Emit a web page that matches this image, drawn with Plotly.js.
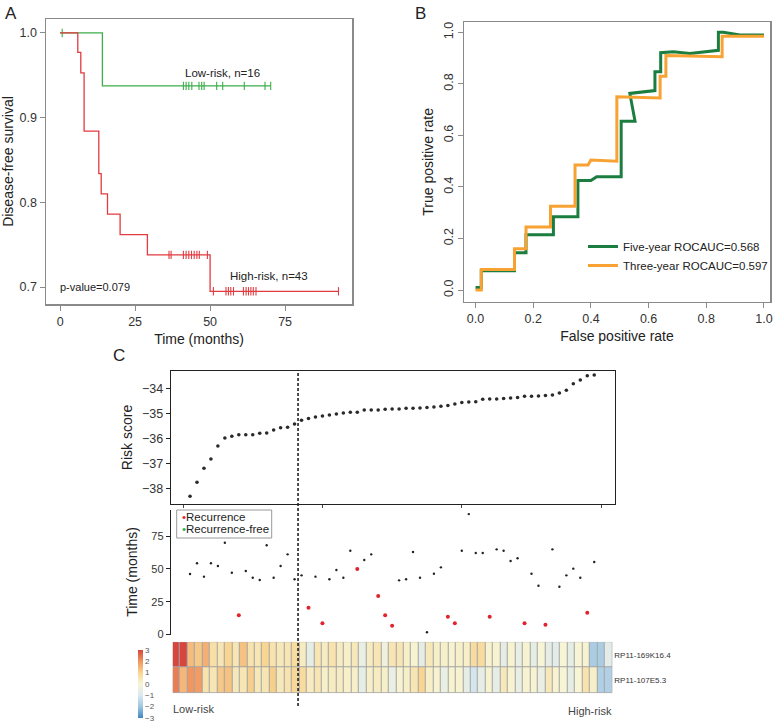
<!DOCTYPE html>
<html>
<head>
<meta charset="utf-8">
<script src="https://cdn.plot.ly/plotly-3.0.1.min.js"></script>
<style>
  body { margin: 0; background: #fff; }
  #plot { width: 777px; height: 725px; }
</style>
</head>
<body>
<div id="plot"></div>
<script>
// ---- panel A: Kaplan-Meier (months, survival) ----
const lowEventTimes = [0, 14.1];
const lowSurv = [1, 0.9375];
const lowCensor = [0.7, 41.1, 42, 42.9, 43.9, 46.3, 47.2, 48, 52.2, 54.2, 61.4, 68.3, 70.2];

const highEventTimes = [0, 5.9, 6.9, 8.0, 12.9, 13.7, 15.8, 20.0, 29.1, 50.0];
const highSurv = [1, 0.977, 0.953, 0.884, 0.834, 0.810, 0.786, 0.762, 0.738, 0.695];
const highCensor = [36.3, 37, 41.1, 42, 42.9, 43.8, 44.7, 45.6, 46.4, 49.1, 51.1, 55.3, 56.1, 56.9,
    57.8, 61.1, 62, 62.8, 63.6, 64.4, 65.3, 92.8];

// ---- panel B: ROC ----
const fiveFpr = [0, 0.02, 0.02, 0.135, 0.135, 0.175, 0.175, 0.27, 0.27, 0.355, 0.355, 0.40, 0.42, 0.505,
    0.505, 0.553, 0.535, 0.622, 0.622, 0.642, 0.642, 0.686, 0.743, 0.842, 0.842, 0.859, 0.917, 1.0];
const fiveTpr = [0.01, 0.01, 0.075, 0.075, 0.145, 0.145, 0.215, 0.215, 0.285, 0.285, 0.425, 0.425, 0.44, 0.44,
    0.655, 0.655, 0.763, 0.774, 0.847, 0.847, 0.921, 0.925, 0.918, 0.93, 1.0, 1.0, 0.99, 0.99];
const threeFpr = [0, 0.02, 0.02, 0.135, 0.135, 0.175, 0.175, 0.26, 0.26, 0.345, 0.345, 0.39, 0.40, 0.49,
    0.49, 0.64, 0.64, 0.66, 0.66, 0.855, 0.855, 1.0];
const threeTpr = [0, 0, 0.08, 0.08, 0.16, 0.16, 0.245, 0.245, 0.325, 0.325, 0.485, 0.485, 0.505, 0.50,
    0.75, 0.745, 0.83, 0.83, 0.91, 0.905, 0.985, 0.985];

// ---- panel C: risk score, follow-up time, expression ----
const lowRiskN = 16;
const riskScore = [-38.32, -37.76, -37.2, -36.83, -36.31, -35.99, -35.92, -35.86, -35.86, -35.86,
    -35.80, -35.79, -35.67, -35.58, -35.56, -35.43, -35.28, -35.21, -35.15, -35.11,
    -35.07, -35.03, -34.99, -34.96, -34.96, -34.87, -34.87, -34.87, -34.84, -34.83,
    -34.83, -34.80, -34.80, -34.79, -34.77, -34.75, -34.72, -34.69, -34.63, -34.57,
    -34.55, -34.54, -34.44, -34.43, -34.43, -34.41, -34.39, -34.37, -34.32, -34.32,
    -34.31, -34.29, -34.27, -34.19, -34.08, -33.82, -33.67, -33.50, -33.47];
const followUp = [46.1, 54.3, 44.1, 54.3, 52.2, 70.0, 47.1, 14.6, 48.4, 43.3,
    41.5, 68.0, 43.3, 52.2, 61.1, 42.1, 45.1, 20.4, 44.1, 8.5,
    42.1, 49.2, 43.3, 63.9, 49.9, 56.8, 61.1, 29.3, 14.6, 6.7,
    41.3, 42.1, 62.9, 43.3, 1.7, 46.3, 51.2, 13.6, 8.5, 63.9,
    91.8, 62.1, 62.1, 13.6, 64.9, 63.9, 56.0, 58.1, 8.5, 46.3,
    37.2, 7.5, 64.9, 36.4, 45.1, 50.2, 43.3, 16.6, 55.3];
const recurred = [0, 0, 0, 0, 0, 0, 0, 1, 0, 0,
    0, 0, 0, 0, 0, 0, 0, 1, 0, 1,
    0, 0, 0, 0, 1, 0, 0, 1, 1, 1,
    0, 0, 0, 0, 0, 0, 0, 1, 1, 0,
    0, 0, 0, 1, 0, 0, 0, 0, 1, 0,
    0, 1, 0, 0, 0, 0, 0, 1, 0];

const geneNames = ['RP11-169K16.4', 'RP11-107E5.3'];
const expr169K = [3.0, 3.0, 1.4, 1.2, 1.6, 0.7, 0.5, 1.0, 0.5, 1.3,
    0.6, 0.5, 1.0, 0.6, 0.4, 0.5, 0.8, 0.3, -0.6, 0.5,
    0.3, 0.6, 0.3, 0.2, 0.4, -0.5, 0.3, 0.5, -0.3, 0.5,
    0.5, 0.2, 0.1, -0.6, 0.4, 0.2, 0.2, 0.1, 0.2, 0.2,
    0.8, 0.8, 0.1, 0.1, -0.6, 0.1, -0.5, 0.1, -0.6, 0.0,
    -0.6, -0.7, 0.0, -0.6, 0.0, 0.1, -1.8, -1.8, -0.7];
const expr107E = [2.3, 1.5, 2.0, 1.9, 0.6, 0.5, 1.2, 1.3, 0.4, 0.5,
    1.1, 0.4, 0.5, 1.1, 0.4, 0.6, 0.9, 0.8, 0.3, 0.5,
    0.2, 0.3, 0.3, 0.2, 0.2, -0.6, 0.2, 0.3, 0.2, -0.5,
    0.1, 0.2, 0.5, 1.0, 0.2, 0.1, -0.5, 0.1, 0.1, -0.6,
    -1.1, -0.6, 0.1, -0.6, 0.4, 0.1, -0.5, 0.1, 0.1, -0.5,
    0.4, 0.1, 0.0, -0.6, 0.0, 0.6, 0.2, -1.7, -1.7];

// ---------------------------------------------------------------
const W = 777, H = 725;
const fx = p => p / W;
const fy = p => 1 - p / H;
const FONT = 'Liberation Sans, Arial, sans-serif';

function stepLine(times, surv, censor) {
    const last = Math.max(times[times.length - 1], censor[censor.length - 1]);
    return { x: times.concat([last]), y: surv.concat([surv[surv.length - 1]]) };
}
function survAt(times, surv, t) {
    let s = surv[0];
    times.forEach((tt, i) => { if (tt <= t) s = surv[i]; });
    return s;
}

const green = '#3cae4a', red = '#e23b40';
const lowLine = stepLine(lowEventTimes, lowSurv, lowCensor);
const highLine = stepLine(highEventTimes, highSurv, highCensor);
const idx = riskScore.map((_, i) => i + 1);

const traces = [
    { x: lowLine.x, y: lowLine.y, type: 'scatter', mode: 'lines', line: { color: green, width: 1.3, shape: 'hv' },
      xaxis: 'x', yaxis: 'y', showlegend: false },
    { x: lowCensor, y: lowCensor.map(t => survAt(lowEventTimes, lowSurv, t)), type: 'scatter', mode: 'markers',
      marker: { symbol: 'line-ns-open', size: 6, color: green, line: { color: green, width: 1.1 } },
      xaxis: 'x', yaxis: 'y', showlegend: false },
    { x: highLine.x, y: highLine.y, type: 'scatter', mode: 'lines', line: { color: red, width: 1.3, shape: 'hv' },
      xaxis: 'x', yaxis: 'y', showlegend: false },
    { x: highCensor, y: highCensor.map(t => survAt(highEventTimes, highSurv, t)), type: 'scatter', mode: 'markers',
      marker: { symbol: 'line-ns-open', size: 6, color: red, line: { color: red, width: 1.1 } },
      xaxis: 'x', yaxis: 'y', showlegend: false },

    // ROC
    { x: fiveFpr, y: fiveTpr, type: 'scatter', mode: 'lines', name: 'Five-year ROCAUC=0.568',
      line: { color: '#1b7d3f', width: 3 }, xaxis: 'x2', yaxis: 'y2' },
    { x: threeFpr, y: threeTpr, type: 'scatter', mode: 'lines', name: 'Three-year ROCAUC=0.597',
      line: { color: '#f7a233', width: 3 }, xaxis: 'x2', yaxis: 'y2' },

    // risk score
    { x: idx, y: riskScore, type: 'scatter', mode: 'markers', marker: { color: '#2a2a2a', size: 3.6 },
      xaxis: 'x3', yaxis: 'y3', showlegend: false, cliponaxis: false },

    // follow-up time
    { x: idx.filter((_, i) => !recurred[i]), y: followUp.filter((_, i) => !recurred[i]), type: 'scatter', mode: 'markers',
      marker: { color: '#222', size: 2.4 }, xaxis: 'x4', yaxis: 'y4', showlegend: false, cliponaxis: false },
    { x: idx.filter((_, i) => recurred[i]), y: followUp.filter((_, i) => recurred[i]), type: 'scatter', mode: 'markers',
      marker: { color: '#e0232d', size: 4 }, xaxis: 'x4', yaxis: 'y4', showlegend: false, cliponaxis: false },

    // expression heatmap
    { z: [expr169K, expr107E], x: idx, y: geneNames, type: 'heatmap', xaxis: 'x5', yaxis: 'y5',
      zmin: -3, zmax: 3, xgap: 1, ygap: 1, hoverinfo: 'skip',
      colorscale: [[0, '#3f86c3'], [1 / 6, '#9fc6e1'], [2 / 6, '#dbe8ef'], [0.5, '#f7f5d6'],
                   [4 / 6, '#f8d591'], [5 / 6, '#f09660'], [1, '#d6463e']],
      colorbar: { x: fx(138), xanchor: 'left', y: fy(684), yanchor: 'middle', lenmode: 'pixels', len: 68,
                  thickness: 5, xpad: 0, ypad: 0, outlinewidth: 0, tickvals: [-3, -2, -1, 0, 1, 2, 3],
                  ticks: '', tickfont: { size: 8, color: '#555', family: FONT } } }
];

const gridOff = { showgrid: false, zeroline: false, automargin: false };
const greyFrame = { showline: true, mirror: true, linecolor: '#8a8a8a', linewidth: 1.5,
    ticks: 'outside', ticklen: 5, tickcolor: '#8a8a8a', tickfont: { size: 12.5, color: '#333' } };
const titleFont = { size: 14, color: '#222' };

const layout = {
    width: W, height: H,
    margin: { l: 0, r: 0, t: 0, b: 0 },
    paper_bgcolor: '#fff', plot_bgcolor: 'rgba(0,0,0,0)',
    font: { family: FONT, color: '#222' },
    xaxis: Object.assign({}, gridOff, greyFrame, { domain: [fx(46), fx(352)], range: [-4.7, 97.3],
        tickvals: [0, 25, 50, 75], anchor: 'y',
        title: { text: 'Time (months)', font: titleFont, standoff: 6 } }),
    yaxis: Object.assign({}, gridOff, greyFrame, { domain: [fy(304), fy(19)], range: [0.680, 1.0165],
        dtick: 0.1, tickformat: '.1f', anchor: 'x',
        title: { text: 'Disease-free survival', font: titleFont, standoff: 5 } }),
    xaxis2: Object.assign({}, gridOff, greyFrame, { domain: [fx(464), fx(770)], range: [-0.04, 1.021],
        dtick: 0.2, tickformat: '.1f', anchor: 'y2',
        title: { text: 'False positive rate', font: titleFont, standoff: 6 } }),
    yaxis2: Object.assign({}, gridOff, greyFrame, { domain: [fy(301.7), fy(22)], range: [-0.045, 1.04],
        dtick: 0.2, tickformat: '.1f', tickangle: -90, anchor: 'x2',
        title: { text: 'True positive rate', font: titleFont, standoff: 4 } }),
    xaxis3: Object.assign({}, gridOff, { domain: [fx(171), fx(615)], range: [-1.73, 61.98], anchor: 'y3',
        showline: true, mirror: true, linecolor: '#222', linewidth: 1.4, ticks: 'outside', ticklen: 3,
        tickcolor: '#444', tickvals: [0, 20, 40, 60], showticklabels: false }),
    yaxis3: Object.assign({}, gridOff, { domain: [fy(504), fy(371)], range: [-38.63, -33.31], anchor: 'x3',
        showline: true, mirror: true, linecolor: '#222', linewidth: 1.4, ticks: 'outside', ticklen: 4,
        tickcolor: '#222', dtick: 1, tickfont: { size: 12.5, color: '#333' },
        title: { text: 'Risk score', font: titleFont, standoff: 6 } }),
    xaxis4: Object.assign({}, gridOff, { domain: [fx(171), fx(615)], range: [-1.73, 61.98], anchor: 'y4',
        visible: false }),
    yaxis4: Object.assign({}, gridOff, { domain: [fy(634.5), fy(509.5)], range: [0, 95.3], anchor: 'x4',
        showline: true, linecolor: '#222', linewidth: 1.2, ticks: 'outside', ticklen: 4, tickcolor: '#222',
        tickvals: [0, 25, 50, 75], tickfont: { size: 11, color: '#333' },
        title: { text: 'Time (months)', font: titleFont, standoff: 10 } }),
    xaxis5: Object.assign({}, gridOff, { domain: [fx(172.7), fx(612.3)], range: [0.5, idx.length + 0.5],
        anchor: 'y5', visible: false }),
    yaxis5: Object.assign({}, gridOff, { domain: [fy(693.3), fy(641.7)], anchor: 'x5', side: 'right',
        autorange: 'reversed', ticks: '', tickfont: { size: 8, color: '#333' }, ticklabelstandoff: 1 }),
    legend: { x: fx(583), y: fy(232), xanchor: 'left', yanchor: 'top', bgcolor: 'rgba(0,0,0,0)',
        font: { size: 11.5, color: '#222' }, tracegroupgap: 0, itemwidth: 30 },
    shapes: [
        // grey grid behind heatmap cells
        { type: 'rect', xref: 'x5', yref: 'y5', x0: 0.5, x1: idx.length + 0.5, y0: -0.5, y1: geneNames.length - 0.5,
          fillcolor: '#a4a4a4', line: { color: '#a4a4a4', width: 1 }, layer: 'below' },
        // risk cut-off
        { type: 'line', xref: 'x3', yref: 'paper', x0: lowRiskN + 0.5, x1: lowRiskN + 0.5, y0: fy(706), y1: fy(371),
          line: { color: '#222', width: 1.6, dash: '3px,2px' } },
        // legend box of the time panel
        { type: 'rect', xref: 'paper', yref: 'paper', x0: fx(176.7), x1: fx(271.7), y0: fy(538), y1: fy(510),
          line: { color: '#999', width: 1 }, fillcolor: 'rgba(0,0,0,0)' }
    ],
    annotations: [
        { text: 'A', xref: 'paper', yref: 'paper', x: fx(3), y: fy(2), xanchor: 'left', yanchor: 'top',
          showarrow: false, font: { size: 17 } },
        { text: 'B', xref: 'paper', yref: 'paper', x: fx(413), y: fy(2), xanchor: 'left', yanchor: 'top',
          showarrow: false, font: { size: 17 } },
        { text: 'C', xref: 'paper', yref: 'paper', x: fx(111), y: fy(344), xanchor: 'left', yanchor: 'top',
          showarrow: false, font: { size: 17 } },
        { text: 'Low-risk, n=16', xref: 'x', yref: 'y', x: 41, y: 0.953, xanchor: 'left', yanchor: 'middle',
          showarrow: false, font: { size: 11.5, color: '#222' } },
        { text: 'High-risk, n=43', xref: 'x', yref: 'y', x: 56, y: 0.7134, xanchor: 'left', yanchor: 'middle',
          showarrow: false, font: { size: 11.5, color: '#222' } },
        { text: 'p-value=0.079', xref: 'x', yref: 'y', x: -0.7, y: 0.7005, xanchor: 'left', yanchor: 'middle',
          showarrow: false, font: { size: 11, color: '#222' } },
        { text: '<span style="color:#e0232d">•</span>Recurrence', xref: 'paper', yref: 'paper', x: fx(180),
          y: fy(517), xanchor: 'left', yanchor: 'middle', showarrow: false, font: { size: 11.5, color: '#222' } },
        { text: '<span style="color:#2fae4a">•</span>Recurrence-free', xref: 'paper', yref: 'paper', x: fx(180),
          y: fy(528.5), xanchor: 'left', yanchor: 'middle', showarrow: false, font: { size: 11.5, color: '#222' } },
        { text: 'Low-risk', xref: 'paper', yref: 'paper', x: fx(171), y: fy(709), xanchor: 'left',
          yanchor: 'middle', showarrow: false, font: { size: 11, color: '#444' } },
        { text: 'High-risk', xref: 'paper', yref: 'paper', x: fx(614), y: fy(711), xanchor: 'right',
          yanchor: 'middle', showarrow: false, font: { size: 11, color: '#444' } }
    ]
};

Plotly.newPlot('plot', traces, layout, { displayModeBar: false, staticPlot: true });
</script>
</body>
</html>
